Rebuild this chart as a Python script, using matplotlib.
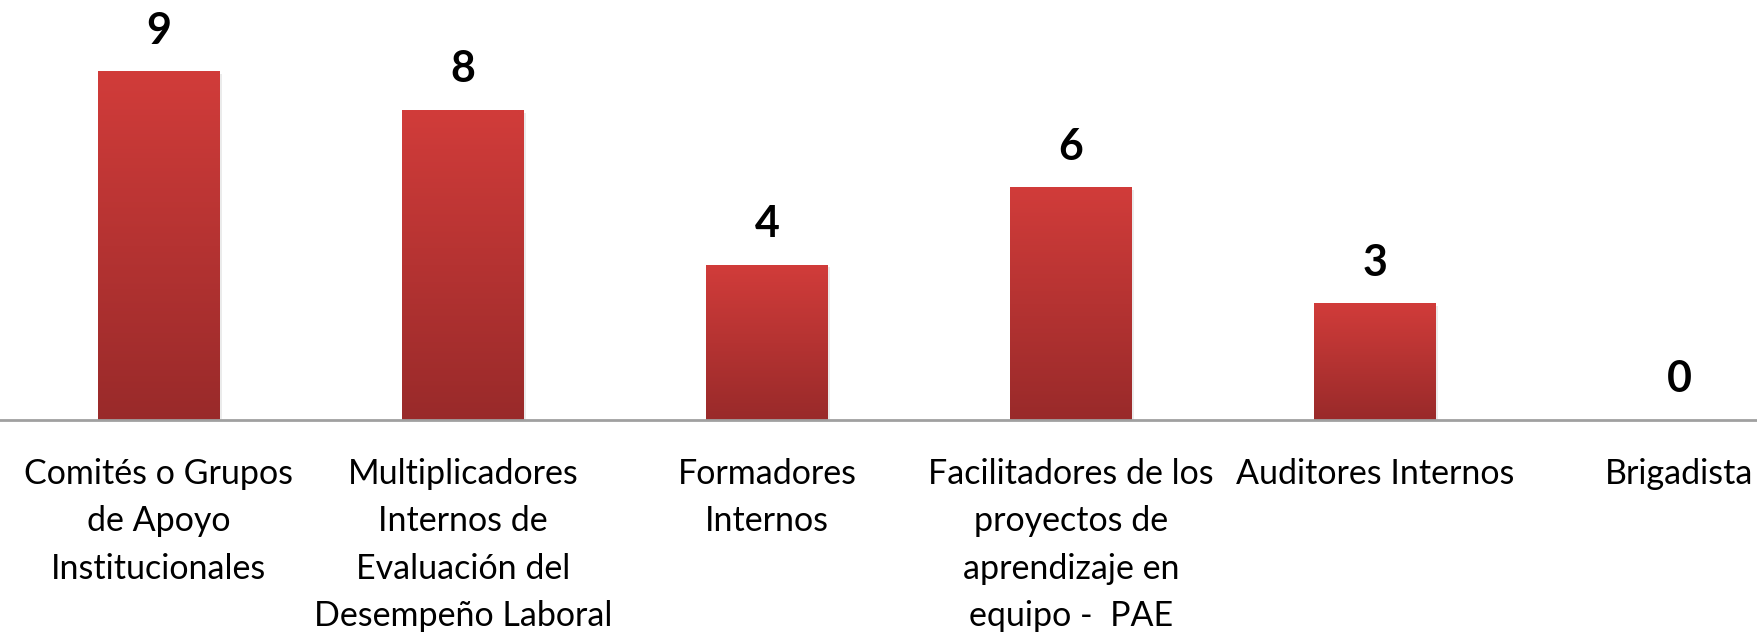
import matplotlib.pyplot as plt
import numpy as np
from matplotlib.colors import LinearSegmentedColormap

categorias = [
    "Comités o Grupos\nde Apoyo\nInstitucionales",
    "Multiplicadores\nInternos de\nEvaluación del\nDesempeño Laboral",
    "Formadores\nInternos",
    "Facilitadores de los\nproyectos de\naprendizaje en\nequipo -  PAE",
    "Auditores Internos",
    "Brigadista",
]
valores = [9, 8, 4, 6, 3, 0]

plt.rcParams['font.family'] = ['Lato', 'DejaVu Sans']

fig = plt.figure(figsize=(17.58, 6.36), dpi=100)
ax = fig.add_axes([0, 216 / 636, 1, 420 / 636])

x = np.arange(len(categorias))
bars = ax.bar(x, valores, width=0.4, color='none', edgecolor='none')

grad = LinearSegmentedColormap.from_list('rojo', ['#992a2a', '#d13c3a'])
g = np.linspace(0, 1, 256).reshape(-1, 1)
for b in bars:
    if b.get_height() <= 0:
        continue
    x0, w, h = b.get_x(), b.get_width(), b.get_height()
    # sombra suave
    ax.bar(x0 + w / 2 + 0.008, h, width=w, bottom=-0.05, color='#000000', alpha=0.08, zorder=1)
    ax.imshow(g, cmap=grad, origin='lower', aspect='auto',
              extent=(x0, x0 + w, 0, h), zorder=2)

for xi, v in zip(x, valores):
    ax.text(xi, v + 0.55, str(v), ha='center', va='bottom',
            fontsize=31, fontweight='bold', color='black')

ax.set_xlim(-0.523, 5.26)
ax.set_ylim(0, 10.86)
ax.set_xticks(x)
ax.set_xticklabels(categorias, fontsize=24.5, linespacing=1.6)
ax.tick_params(axis='x', length=0, pad=27)
ax.set_yticks([])
for s in ['top', 'left', 'right']:
    ax.spines[s].set_visible(False)
ax.spines['bottom'].set_color('#a0a0a0')
ax.spines['bottom'].set_linewidth(2)
ax.spines['bottom'].set_zorder(3)

fig.savefig('out.png', dpi=100)
